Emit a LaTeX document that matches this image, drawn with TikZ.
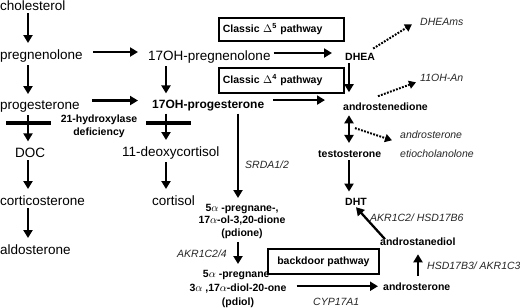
\documentclass[tikz,border=0pt]{standalone}
\usepackage{fontspec}
\setmainfont{Liberation Sans}
\usetikzlibrary{arrows.meta,calc}
\begin{document}
\begin{tikzpicture}[x=1pt,y=-1pt,
  reg/.style={font=\fontsize{13.5}{16}\selectfont, inner sep=0pt, anchor=base west},
  bld/.style={font=\bfseries\fontsize{10.5}{12.5}\selectfont, inner sep=0pt, anchor=base west},
  itl/.style={font=\itshape\fontsize{10.5}{12.5}\selectfont, text=black!85, inner sep=0pt, anchor=base west},
  arr/.style={line width=2.3pt, -{Triangle[length=8pt,width=9pt]}, shorten <=3pt, shorten >=6pt},
  biarr/.style={line width=2.3pt, {Triangle[length=8pt,width=9pt]}-{Triangle[length=8pt,width=9pt]}, shorten <=3pt, shorten >=6pt},
  dotarr/.style={line width=2pt, dash pattern=on 1.8pt off 1.4pt, -{Triangle[length=7pt,width=8pt]}},
  bar/.style={line width=4.5pt},
  pathbox/.style={draw, line width=1.8pt, inner sep=0pt, font=\bfseries\fontsize{10.5}{12.5}\selectfont}
]
\useasboundingbox (0,0) rectangle (520,308);
\coordinate (cA) at (28,0);
\coordinate (cB) at (166,0);
\coordinate (cC) at (238,0);
\coordinate (cD) at (349,0);
\coordinate (cE) at (418,0);

% left column
\node[reg] (chol) at (0,10) {cholesterol};
\node[reg] (preg) at (0,59) {pregnenolone};
\node[reg] (prog) at (0,109) {progesterone};
\node[reg] (doc) at (15,157) {DOC};
\node[reg] (cort) at (0,205) {corticosterone};
\node[reg] (aldo) at (0,254) {aldosterone};
% middle column
\node[reg] (p17) at (148,60) {17OH-pregnenolone};
\node[bld, font=\bfseries\fontsize{12}{14}\selectfont] (o17) at (152,108) {17OH-progesterone};
\node[reg] (deoxy) at (122,156) {11-deoxycortisol};
\node[reg] (cortisol) at (152,205) {cortisol};
\node[bld, align=center, anchor=north, font=\bfseries\fontsize{10.5}{13}\selectfont] (def) at (99,115) {21-hydroxylase\\deficiency};
% right part
\node[bld] (dhea) at (345,60) {DHEA};
\node[bld] (andro) at (343,110) {androstenedione};
\node[bld] (testo) at (318,157) {testosterone};
\node[bld] (dht) at (345,205) {DHT};
\node[bld] (adiol) at (380,245) {androstanediol};
\node[bld] (andB) at (383,290) {androsterone};
\node[bld, align=center, anchor=north, font=\bfseries\fontsize{10.5}{12.5}\selectfont] (pdione) at (242,204) {5\(\alpha\) -pregnane-,\\17\(\alpha\)-ol-3,20-dione\\(pdione)};
\node[bld, align=center, anchor=north, font=\bfseries\fontsize{10.5}{13.8}\selectfont] (pdiol) at (238,270) {5\(\alpha\) -pregnane\mbox{-}\\3\(\alpha\) ,17\(\alpha\)-diol-20-one\\(pdiol)};
% italic labels
\node[itl] (dheams) at (420,25) {DHEAms};
\node[itl] (ohan) at (420,81) {11OH-An};
\node[itl] (andI) at (400,138) {androsterone};
\node[itl] (etio) at (400,157) {etiocholanolone};
\node[itl] (srda) at (245,168) {SRDA1/2};
\node[itl] (akr24) at (177,257) {AKR1C2/4};
\node[itl] (cyp) at (313,305) {CYP17A1};
\node[itl] (hsd3) at (427,269) {HSD17B3/ AKR1C3};
\node[itl] (akr6) at (370,221) {AKR1C2/ HSD17B6};
% boxes
\node[pathbox, anchor=north west, minimum width=125pt, minimum height=23pt, text width=117pt, inner xsep=4pt, align=left] (c5) at (218,17) {Classic \(\Delta\)\textsuperscript{5} pathway};
\node[pathbox, anchor=north west, minimum width=125pt, minimum height=25pt, text width=117pt, inner xsep=4pt, align=left] (c4) at (218,67) {Classic \(\Delta\)\textsuperscript{4} pathway};
\node[pathbox, anchor=north west, minimum width=111pt, minimum height=25pt] (bd) at (267,248) {backdoor pathway};

% left column arrows
\draw[arr] (chol.south -| cA) -- (preg.north -| cA);
\draw[arr] (preg.south -| cA) -- (prog.north -| cA);
\draw[arr] (prog.south -| cA) -- (doc.north -| cA);
\draw[arr] (doc.south -| cA) -- (cort.north -| cA);
\draw[arr] (cort.south -| cA) -- (aldo.north -| cA);
% middle column arrows
\draw[arr] (p17.south -| cB) -- (o17.north -| cB);
\draw[arr] (o17.south -| cB) -- (deoxy.north -| cB);
\draw[arr] (deoxy.south -| cB) -- (cortisol.north -| cB);
% horizontal arrows
\draw[arr, shorten <=10pt, shorten >=10pt] ([yshift=3.5pt]preg.east) -- ([yshift=3.5pt]preg.east -| p17.west);
\draw[arr, shorten <=12pt, shorten >=14pt] ([yshift=5.5pt]prog.east) -- ([yshift=5.5pt]prog.east -| o17.west);
\draw[arr, shorten <=3pt, shorten >=13pt] ([yshift=3.5pt]p17.east) -- ([yshift=3.5pt]p17.east -| dhea.west);
\draw[arr, shorten <=9pt, shorten >=18pt] ([yshift=5pt]o17.east) -- ([yshift=5pt]o17.east -| andro.west);
% bars
\draw[bar] (6,123) -- (51,123);
\draw[bar] (146,123) -- (191,123);
% backdoor
\draw[arr] (o17.south -| cC) -- (pdione.north -| cC);
\draw[arr] (pdione.south -| cC) -- (pdiol.north -| cC);
\draw[arr, shorten <=10pt, shorten >=5pt] (pdiol.east |- andB.west) -- (andB.west);
\draw[arr, shorten <=6pt, shorten >=9pt] (andB.north -| cE) -- (adiol.south -| cE);
\draw[arr, shorten <=0pt, shorten >=0pt] ([xshift=5pt,yshift=-2pt]adiol.north west) -- ([yshift=-2pt]dht.south);
% right column
\draw[arr, shorten >=10pt] (dhea.south -| cD) -- (andro.north -| cD);
\draw[biarr, shorten <=5pt, shorten >=7pt] (andro.south -| cD) -- (testo.north -| cD);
\draw[arr] (testo.south -| cD) -- (dht.north -| cD);
\coordinate (mid) at ($(andro.south -| cD)!0.5!(testo.north -| cD)$);
% dotted arrows
\draw[dotarr] ([xshift=-2pt,yshift=4pt]dhea.north east) -- ([xshift=-8pt,yshift=1pt]dheams.south west);
\draw[dotarr] ([xshift=35pt,yshift=6pt]andro.north west) -- ([xshift=-4pt,yshift=-1pt]ohan.south west);
\draw[dotarr] ([xshift=6pt,yshift=2pt]mid) -- ([xshift=-8pt,yshift=-2pt]andI.south west);
\end{tikzpicture}
\end{document}
